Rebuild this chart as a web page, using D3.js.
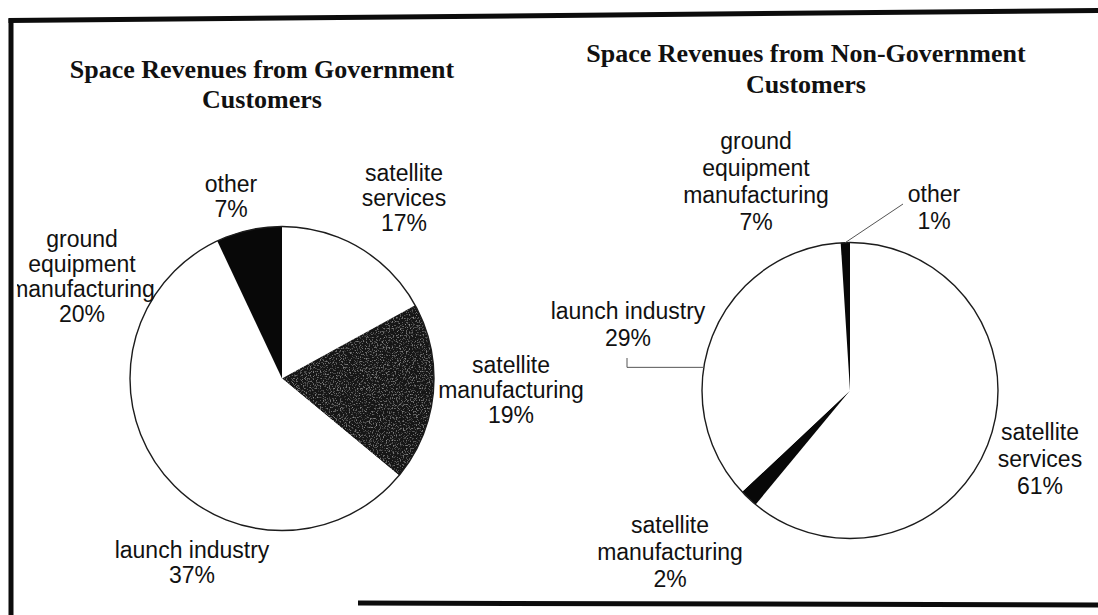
<!DOCTYPE html>
<html>
<head>
<meta charset="utf-8">
<script src="https://cdn.jsdelivr.net/npm/d3@7"></script>
<style>
  html, body { margin: 0; padding: 0; background: #fff; }
  svg { display: block; }
</style>
</head>
<body>
<svg id="chart" width="1098" height="615"></svg>
<script>
// Revenue segments, listed clockwise from twelve o'clock
const segments = ["satellite services", "satellite manufacturing", "launch industry",
                  "ground equipment manufacturing", "other"];
// Share of revenue (%) per segment
const govShares = [17, 19, 37, 20, 7];
const nonGovShares = [61, 2, 29, 7, 1];
// Chart titles (two lines each)
const govTitle = ["Space Revenues from Government", "Customers"];
const nonGovTitle = ["Space Revenues from Non-Government", "Customers"];
// How each segment name wraps in its label
const labelLines = [
  ["satellite", "services"],
  ["satellite", "manufacturing"],
  ["launch industry"],
  ["ground", "equipment", "manufacturing"],
  ["other"]
];

// ---- layout and styling ----
const panels = [
  {
    shares: govShares, title: govTitle,
    cx: 282, cy: 378.5, r: 152,
    titleX: 262, titleY: 78, titleLineH: 30,
    lineH: 25,
    fills: ["#ffffff", "#151515", "#ffffff", "#ffffff", "#080808"],
    grain: [false, true, false, false, false],
    // label anchor: centre x, first baseline y
    labels: [[404, 181], [511, 373], [192, 557.5], [82, 246.5], [231, 192]],
    leaders: []
  },
  {
    shares: nonGovShares, title: nonGovTitle,
    cx: 850, cy: 390.5, r: 148,
    titleX: 806, titleY: 62, titleLineH: 31,
    lineH: 27,
    fills: ["#ffffff", "#080808", "#ffffff", "#ffffff", "#080808"],
    grain: [false, false, false, false, false],
    labels: [[1040, 440], [670, 533], [628, 319], [756, 149], [934, 202]],
    // leader lines: segment index, label-side start point, elbow or straight
    leaders: [
      { index: 4, from: [903, 204], elbow: false },
      { index: 2, from: [627, 358], elbow: true }
    ]
  }
];

const svg = d3.select("#chart");
const defs = svg.append("defs");

// speckled texture for the shaded slice
const grain = defs.append("filter").attr("id", "grain")
  .attr("x", 0).attr("y", 0).attr("width", 1).attr("height", 1);
grain.append("feTurbulence").attr("type", "fractalNoise")
  .attr("baseFrequency", 0.7).attr("numOctaves", 2).attr("seed", 7).attr("result", "n");
grain.append("feColorMatrix").attr("in", "n").attr("type", "matrix")
  .attr("values", "0 0 0 0 0.42  0 0 0 0 0.42  0 0 0 0 0.42  2.2 0 0 0 -1.2")
  .attr("result", "s");
grain.append("feComposite").attr("in", "s").attr("in2", "SourceGraphic").attr("operator", "atop");

defs.append("clipPath").attr("id", "frameClip")
  .append("rect").attr("x", 17).attr("y", 0).attr("width", 1098).attr("height", 615);

const content = svg.append("g").attr("clip-path", "url(#frameClip)");

const pie = d3.pie().sort(null).value(d => d);

panels.forEach(p => {
  const g = content.append("g");
  const arcs = pie(p.shares);
  const arc = d3.arc().innerRadius(0).outerRadius(p.r);

  // slices
  g.append("g").attr("transform", `translate(${p.cx},${p.cy})`)
    .selectAll("path").data(arcs).join("path")
    .attr("d", arc)
    .attr("fill", (d, i) => p.fills[i])
    .attr("filter", (d, i) => p.grain[i] ? "url(#grain)" : null);

  // outline
  g.append("circle").attr("cx", p.cx).attr("cy", p.cy).attr("r", p.r)
    .attr("fill", "none").attr("stroke", "#1c1c1c").attr("stroke-width", 1.4);

  // title
  const t = g.append("text")
    .attr("x", p.titleX).attr("y", p.titleY)
    .attr("text-anchor", "middle")
    .attr("font-family", "'Liberation Serif', 'Times New Roman', serif")
    .attr("font-weight", "bold").attr("font-size", 26).attr("fill", "#111");
  p.title.forEach((line, k) => {
    t.append("tspan").attr("x", p.titleX).attr("dy", k === 0 ? 0 : p.titleLineH).text(line);
  });

  // data labels
  arcs.forEach((a, i) => {
    const [lx, ly] = p.labels[i];
    const lines = labelLines[i].concat([`${p.shares[i]}%`]);
    const txt = g.append("text")
      .attr("x", lx).attr("y", ly)
      .attr("text-anchor", "middle")
      .attr("font-family", "'Liberation Sans', Arial, sans-serif")
      .attr("font-size", 23).attr("fill", "#111");
    lines.forEach((line, k) => {
      txt.append("tspan").attr("x", lx).attr("dy", k === 0 ? 0 : p.lineH).text(line);
    });
  });

  // leader lines from labels to their slices
  p.leaders.forEach(L => {
    const a = arcs[L.index];
    const mid = (a.startAngle + a.endAngle) / 2;
    const ex = p.cx + p.r * Math.sin(mid);
    const ey = p.cy - p.r * Math.cos(mid);
    const pts = L.elbow ? [L.from, [L.from[0], ey], [ex, ey]] : [L.from, [ex, ey]];
    g.append("path").attr("d", d3.line()(pts))
      .attr("fill", "none").attr("stroke", "#555").attr("stroke-width", 1);
  });
});

// frame
const frame = svg.append("g").attr("stroke", "#0c0c0c").attr("fill", "none").attr("stroke-width", 5);
frame.append("path").attr("d", d3.line()([[8.5, 20.5], [1098, 10.5]]));
frame.append("path").attr("d", d3.line()([[11, 18.5], [11, 615]]));
frame.append("path").attr("d", d3.line()([[358, 603], [1098, 605]]));
</script>
</body>
</html>
